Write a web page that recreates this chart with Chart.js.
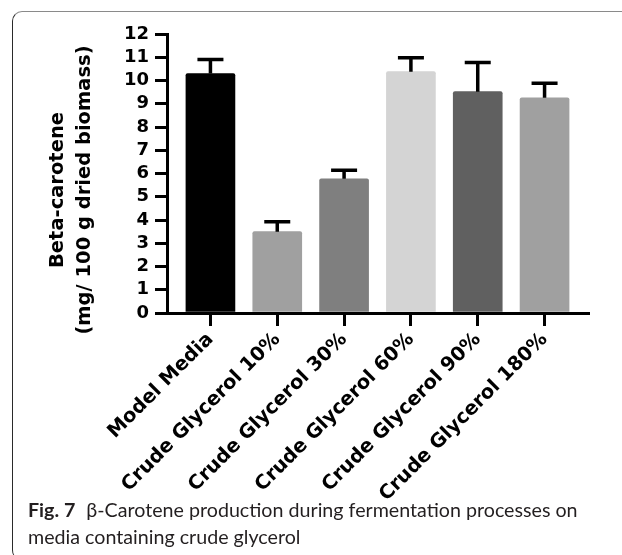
<!DOCTYPE html>
<html>
<head>
<meta charset="utf-8">
<script src="https://cdn.jsdelivr.net/npm/chart.js@4"></script>
<style>
  html, body { margin: 0; padding: 0; background: #fff; }
  body { width: 622px; height: 555px; position: relative; overflow: hidden; }
  #wrap { position: absolute; left: 0; top: 0; width: 622px; height: 555px; }
  .frame { position: absolute; left: 12px; top: 11px; width: 700px; height: 548px;
           border-top: 1.5px solid #8a8a8a; border-left: 1.5px solid #2a2a2a;
           border-radius: 10px 0 0 10px; }
  .caption { position: absolute; left: 28px; top: 496px; color: #231f20;
             font-family: Lato, "Noto Sans", sans-serif; font-size: 19px; line-height: 27px;
             white-space: nowrap; }
  .caption b { font-weight: 700; margin-right: 6px; }
</style>
</head>
<body>
<div class="frame"></div>
<div id="wrap"><canvas id="chart" width="622" height="555"></canvas></div>
<div class="caption"><span id="cap1"><b>Fig. 7</b> β-Carotene production during fermentation processes on</span><br><span>media containing crude glycerol</span></div>
<script>
var categories = ['Model Media', 'Crude Glycerol 10%', 'Crude Glycerol 30%', 'Crude Glycerol 60%', 'Crude Glycerol 90%', 'Crude Glycerol 180%']
var means = [10.3, 3.5, 5.77, 10.38, 9.52, 9.26]
var errors = [0.6, 0.43, 0.37, 0.6, 1.25, 0.62]
var barColors = ['#000000', '#a0a0a0', '#7f7f7f', '#d4d4d4', '#606060', '#a0a0a0']
var yTicks = [0, 1, 2, 3, 4, 5, 6, 7, 8, 9, 10, 11, 12]
var yTitle = ['Beta-carotene', '(mg/ 100 g dried biomass)']

// match caption width to the figure
var cap = document.getElementById('cap1')
var capW = cap.getBoundingClientRect().width
if (capW > 0) {
  document.querySelector('.caption').style.fontSize = (19 * 550 / capW).toFixed(2) + 'px'
}

const errorBars = {
  id: 'errorBars',
  afterDatasetsDraw(chart) {
    let ctx = chart.ctx
    let meta = chart.getDatasetMeta(0)
    let y = chart.scales.y
    ctx.save()
    ctx.strokeStyle = '#000'
    ctx.lineWidth = 3.5
    meta.data.forEach((bar, i) => {
      let top = y.getPixelForValue(means[i] + errors[i])
      let base = y.getPixelForValue(means[i])
      ctx.beginPath()
      ctx.moveTo(bar.x, base)
      ctx.lineTo(bar.x, top)
      ctx.moveTo(bar.x - 13, top)
      ctx.lineTo(bar.x + 13, top)
      ctx.stroke()
    })
    ctx.restore()
  }
}

const yAxisTitle = {
  id: 'yAxisTitle',
  afterDraw(chart) {
    let ctx = chart.ctx
    ctx.save()
    ctx.fillStyle = '#000'
    ctx.font = 'bold 19.5px "DejaVu Sans"'
    ctx.textAlign = 'center'
    ctx.textBaseline = 'middle'
    let cy = 190
    ;[58, 85].forEach((cx, i) => {
      ctx.save()
      ctx.translate(cx, cy)
      ctx.rotate(-Math.PI / 2)
      ctx.fillText(yTitle[i], 0, 0)
      ctx.restore()
    })
    ctx.restore()
  }
}

new Chart(document.getElementById('chart'), {
  type: 'bar',
  data: {
    datasets: [{
      data: means.map((m, i) => ({ x: i, y: m })),
      backgroundColor: barColors,
      borderWidth: 0,
      borderRadius: 2,
      borderSkipped: 'bottom',
      barThickness: 49
    }]
  },
  options: {
    responsive: false,
    animation: false,
    events: [],
    layout: { padding: { left: 0, top: 34, right: 34, bottom: 0 } },
    plugins: { legend: { display: false }, tooltip: { enabled: false } },
    scales: {
      x: {
        type: 'linear',
        offset: false,
        min: -0.65,
        max: 5.65,
        afterBuildTicks: (scale) => { scale.ticks = categories.map((c, i) => ({ value: i })) },
        afterFit: (scale) => { scale.height = 242 },
        grid: { offset: false, drawOnChartArea: false, tickLength: 13, lineWidth: 3, color: '#000' },
        border: { display: true, width: 3, color: '#000' },
        ticks: {
          autoSkip: false,
          minRotation: 45,
          maxRotation: 45,
          padding: 2,
          color: '#000',
          font: { family: 'DejaVu Sans', weight: 'bold', size: 19.5 },
          callback: (v) => categories[v]
        }
      },
      y: {
        min: 0,
        max: 12,
        afterBuildTicks: (scale) => { scale.ticks = yTicks.map(v => ({ value: v })) },
        afterFit: (scale) => { scale.width = 167 },
        grid: { drawOnChartArea: false, tickLength: 12, lineWidth: 3, color: '#000' },
        border: { display: true, width: 3, color: '#000' },
        ticks: {
          autoSkip: false,
          padding: 6,
          color: '#000',
          font: { family: 'DejaVu Sans', weight: 'bold', size: 18 }
        }
      }
    }
  },
  plugins: [errorBars, yAxisTitle]
})
</script>
</body>
</html>
